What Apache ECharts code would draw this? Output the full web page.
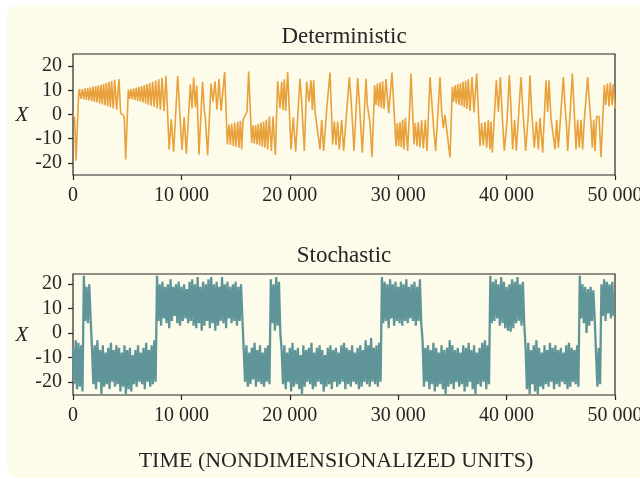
<!DOCTYPE html>
<html>
<head>
<meta charset="utf-8">
<title>Deterministic vs stochastic</title>
<script src="https://cdn.jsdelivr.net/npm/echarts@6/dist/echarts.min.js"></script>
<style>
    html, body {
        margin: 0;
        padding: 0;
        background: #ffffff;
        width: 640px;
        height: 479px;
        overflow: hidden;
    }

    /* cream panel behind the figure */
    #panel {
        position: absolute;
        left: 7px;
        top: 5px;
        width: 650px;
        height: 473px;
        border-radius: 11px;
        background: #fdfbea;
    }

    #chart {
        position: absolute;
        left: 0;
        top: 0;
        width: 640px;
        height: 479px;
    }
</style>
</head>
<body>
<div id="panel"></div>
<div id="chart"></div>
<script>
// ---- data ----
const xTicks = [0, 10000, 20000, 30000, 40000, 50000];
const xTickLabels = ['0', '10 000', '20 000', '30 000', '40 000', '50 000'];
const yTicks = [-20, -10, 0, 10, 20];
const yTickLabels = ['-20', '-10', '0', '10', '20'];

// deterministic run: turning points of the trace (time, X)
const detTime = [
    0, 150, 280, 520, 584, 722, 861, 984, 1107, 1230, 1353, 1476, 1599, 1722, 1845, 1968,
    2091, 2214, 2337, 2460, 2583, 2706, 2829, 2952, 3075, 3198, 3321, 3444, 3567, 3705, 3844, 4028,
    4243, 4397, 4643, 4735, 4858, 5104, 5227, 5350, 5473, 5596, 5719, 5842, 5965, 6088, 6211, 6334,
    6457, 6580, 6703, 6826, 6949, 7072, 7210, 7349, 7488, 7626, 7765, 7903, 8056, 8210, 8395, 8579,
    8870, 9060, 9287, 9655, 10055, 10255, 10455, 10824, 10978, 11131, 11290, 11420, 11623, 11950, 12100, 12200,
    12420, 12730, 12915, 13100, 13284, 13469, 13660, 13760, 13991, 14237, 14391, 14514, 14637, 14791, 14914, 15037,
    15191, 15313, 15437, 15560, 15683, 15806, 15929, 16051, 16205, 16482, 16605, 16728, 16851, 16974, 17097, 17220,
    17343, 17466, 17589, 17712, 17835, 17958, 18112, 18296, 18450, 18665, 18881, 19096, 19250, 19373, 19496, 19619,
    19803, 20110, 20326, 20541, 20941, 21095, 21341, 21556, 21771, 21956, 22079, 22200, 22325, 22786, 22940, 23124,
    23400, 23709, 23954, 24108, 24262, 24415, 24569, 24785, 24969, 25246, 25492, 25646, 25800, 25923, 26261, 26415,
    26538, 26691, 27030, 27153, 27399, 27583, 27829, 27952, 28075, 28198, 28321, 28444, 28567, 28690, 28875, 29120,
    29428, 29797, 29920, 30043, 30166, 30289, 30412, 30535, 30658, 30873, 31027, 31181, 31457, 31580, 31734, 31857,
    32011, 32165, 32319, 32503, 32657, 32934, 33272, 33456, 33856, 34010, 34164, 34318, 34472, 34778, 34994, 35117,
    35240, 35363, 35486, 35609, 35732, 35855, 35978, 36101, 36224, 36347, 36470, 36624, 36808, 36993, 37239, 37546,
    37700, 37854, 38008, 38161, 38315, 38469, 38561, 38684, 39053, 39238, 39422, 39607, 39791, 40037, 40252, 40406,
    40560, 40744, 40898, 41329, 41513, 41759, 42005, 42159, 42313, 42559, 42743, 42928, 43081, 43327, 43635, 43789,
    43912, 44096, 44465, 44619, 44773, 44980, 45234, 45388, 45541, 45634, 45849, 46064, 46249, 46402, 46556, 46710,
    46864, 47017, 47171, 47479, 47633, 47787, 47909, 48032, 48155, 48309, 48524, 48709, 49016, 49139, 49293, 49447,
    49570, 49724, 49830, 50000
];
const detX = [
    0, -1.5, -19, 8.5, 10.5, 6.5, 10.5, 6.2, 10.8, 6, 11, 5.8, 11.2, 5.5, 11.5, 5.2,
    11.8, 5, 12, 4.6, 12.3, 4.2, 12.7, 3.8, 13, 3.4, 13.4, 3, 13.8, 2.5, 14.3, 2,
    14.6, 0.5, -0.3, -1.5, -18.6, 10.3, 6.5, 10.5, 6.2, 10.8, 6, 11.1, 5.6, 11.4, 5.3, 11.8,
    5, 12.2, 4.6, 12.6, 4.1, 13, 3.6, 13.5, 3.1, 14, 2.5, 14.6, 2, 15.2, 1.5, 16,
    -14.4, -2, -15.4, 15.9, -14.6, -1.1, -16.2, 12.5, 2.5, 15.3, 3, 12, -16.5, 13.5, 2, -1,
    -16.8, 12.8, 5.3, 13.7, 2, 14.6, 1.5, 1, 17.6, -12.4, -4.2, -12.6, -3.8, -13, -3.4, -13.4,
    -3, -13.8, -2.6, -14.4, -2.2, -1.5, 0, 1.2, 17.8, -11.7, -4.5, -12.1, -4.5, -12.4, -3.9, -12.8,
    -3.3, -13.2, -2.9, -13.7, -2.2, -14.4, -0.8, -15.1, -0.8, -16.7, 13.7, 2.6, 13.5, 1.9, 14.6, 1.5,
    17.6, -14.4, -1.2, -15.4, 14.8, 5.3, -15.1, 13.5, 5.3, 14.1, 1.9, 14.1, 1.2, -14.4, -2.2, -15.1,
    2, 17.3, -12.4, -2.9, -12.7, -2.9, -14.4, -2.2, -15.1, 1.2, 15.5, 6.7, -4.9, -15.1, 15.1, 5.3,
    -4.2, -15.8, 14.8, 3.9, -3.5, -17.6, 12.1, 3.9, 12.8, 3.3, 13.2, 2.6, 13.7, 2.3, 14.6, 0.5,
    17.3, -13.1, -3.5, -13.1, -3.1, -13.5, -2.2, -14.4, -1.5, -15.1, -0.8, 16.9, -12.4, -3.5, -13.1, -3.1,
    -13.5, -2.2, -14, -2.2, -15.1, 15.5, -5.6, -15.1, 15.5, 1.2, -5.6, -0.1, -0.8, -17.8, 11.4, 5.3,
    12.1, 4.6, 12.5, 3.9, 12.9, 3.5, 13.5, 2.9, 14, 2.3, 14.6, 1.5, 15.5, 0.8, 16.9, -13.1,
    -3.5, -12.8, -3.1, -13.7, -2.2, -14.4, -2.9, -15.8, 14.1, 1.2, 15.5, -1.5, -15.1, -2.9, 16.2, 2.6,
    -14.4, -2.2, -15.1, 15.5, 1.2, -15.1, -0.1, 16.2, 1.2, -13.7, -2.9, -14.4, -1.5, -15.8, 14.1, 1.2,
    14.1, -1.5, -14.4, -2.2, -13.7, -1, 15.5, 3.9, -5.6, -15.1, -0.1, 16.9, 0.5, -14.4, -2.2, -13.7,
    -2.2, -14.4, -2.2, 15.5, 5.3, -3.5, -13.7, -2.2, -15.1, -0.8, -0.8, -17.6, 12.1, 3.9, 12.8, 3.3,
    13.2, 3.9, 12.5, 2.5
];

// stochastic run: upper and lower edge of the noisy band, one pair per 250 time units
const STOCH_STEP = 250;
const stochHigh = [
    -6, -3, -4, -5,
    23.5, 19, 20,
    -6, -5, -3, -7, -5, -8, -6, -4, -7, -5, -6, -8, -5, -7, -6, -9, -7, -5, -8, -6, -4, -7, -5, -3,
    23.5, 20, 21, 19, 20, 22, 19, 20, 21, 19, 20, 18, 21, 22, 20, 23, 19, 21, 20, 22, 23, 20, 21, 19, 23, 20, 21, 19, 20, 21, 19, 20,
    -7, -5, -8, -6, -4, -7, -5, -8, -6, -5,
    22, 20, 23, 21,
    -7, -5, -8, -6, -4, -7, -6, -9, -5, -7, -6, -4, -8, -6, -5, -7, -9, -6, -5, -7, -6, -8, -5, -4, -6, -7, -5, -8, -6, -5, -7, -3, -5, -2, -6, -5, -4,
    23, 21, 20, 22, 20, 21, 19, 21, 20, 22, 19, 20, 21, 19, 22,
    -3, -6, -5, -7, -4, -6, -8, -5, -7, -6, -3, -5, -7, -6, -8, -5, -6, -4, -7, -5, -8, -6, -4, -3, -5,
    23.5, 21, 22, 20, 23, 21, 19, 20, 22, 21, 23, 20, 21,
    -6, -4, -7, -5, -3, -6, -8, -5, -7, -4, -6, -5, -7, -6, -8, -5, -4, -6, -7, -5,
    23.5, 20, 19, 18, 19, 17.5,
    -8, -6,
    20, 22, 21, 20, 21
];
const stochLow = [
    -21, -23, -22, -24,
    5, 4, 6,
    -21, -23, -20, -25, -22, -21, -23, -20, -22, -21, -24, -22, -25, -23, -24, -21, -22, -20, -21, -23, -20, -22, -21, -20,
    5, 3, 6, 4, 2, 5, 7, 4, 3, 5, 6, 4, 5, 3, 2, 4, 1, 3, 5, 2, 4, 1, 3, 5, 4, 2, 6, 4, 5, 3, 5, 6,
    -20, -22, -21, -19, -22, -20, -21, -22, -20, -21,
    4, 1, 3, 0,
    -21, -23, -20, -24, -22, -21, -23, -25, -22, -20, -21, -23, -22, -20, -21, -24, -22, -21, -23, -20, -22, -21, -20, -23, -21, -22, -20, -21, -23, -22, -20, -21, -22, -20, -21, -22, -20,
    4, 5, 2, 6, 3, 5, 4, 3, 5, 4, 6, 5, 3, 5, 4,
    -22, -20, -23, -21, -24, -22, -21, -23, -25, -22, -21, -23, -20, -22, -21, -24, -22, -20, -23, -25, -21, -22, -20, -23, -21,
    4, 5, 6, 3, 4, 2, 1, 0.5, 2, 4, 5, 3, 4,
    -23, -25, -21, -24, -25, -22, -23, -21, -22, -20, -23, -21, -22, -20, -21, -23, -22, -20, -21, -22,
    6, 4, 0, 3, 5, 6,
    -22, -21,
    7, 5, 8, 6, 7
];

// ---- chart ----
const FONT = '"Liberation Serif", "DejaVu Serif", serif';
const INK = '#262626';

const detData = detTime.map((t, i) => [t, detX[i]]);
const stochData = [];
stochHigh.forEach((hi, i) => {
    stochData.push([i * STOCH_STEP, hi]);
    stochData.push([i * STOCH_STEP + STOCH_STEP / 2, stochLow[i]]);
});

function xAxisFor(gridIndex) {
    return {
        type: 'value',
        gridIndex: gridIndex,
        min: 0,
        max: 50000,
        interval: 10000,
        axisLine: { show: false, onZero: false },
        axisTick: { show: true, length: 5, lineStyle: { color: INK, width: 1.2 } },
        axisLabel: {
            color: INK,
            fontFamily: FONT,
            fontSize: 20,
            margin: 11,
            showMinLabel: true,
            showMaxLabel: true,
            formatter: v => xTickLabels[xTicks.indexOf(v)]
        },
        splitLine: { show: false }
    };
}

function yAxisFor(gridIndex, lo, hi) {
    return {
        type: 'value',
        gridIndex: gridIndex,
        min: lo,
        max: hi,
        axisLine: { show: false, onZero: false },
        axisTick: { show: true, length: 5, customValues: yTicks, lineStyle: { color: INK, width: 1.2 } },
        axisLabel: {
            color: INK,
            fontFamily: FONT,
            fontSize: 20,
            margin: 11,
            customValues: yTicks,
            formatter: v => yTickLabels[yTicks.indexOf(v)]
        },
        splitLine: { show: false }
    };
}

function label(text, x, y, size, italic) {
    return {
        type: 'text',
        x: x,
        y: y,
        style: {
            text: text,
            fill: INK,
            font: (italic ? 'italic ' : '') + size + 'px ' + FONT,
            align: 'center',
            verticalAlign: 'middle'
        }
    };
}

const chart = echarts.init(document.getElementById('chart'));

const option = {
    backgroundColor: 'transparent',
    animation: false,
    grid: [
        {
            left: 73, top: 54, width: 542, height: 121,
            outerBoundsMode: 'none', containLabel: false,
            show: true, borderColor: INK, borderWidth: 1.2
        },
        {
            left: 73, top: 274, width: 542, height: 121,
            outerBoundsMode: 'none', containLabel: false,
            show: true, borderColor: INK, borderWidth: 1.2
        }
    ],
    xAxis: [xAxisFor(0), xAxisFor(1)],
    yAxis: [yAxisFor(0, -25, 25), yAxisFor(1, -25.4, 24.2)],
    series: [
        {
            name: 'Deterministic',
            type: 'line',
            xAxisIndex: 0,
            yAxisIndex: 0,
            data: detData,
            showSymbol: false,
            lineStyle: { color: '#e9a13c', width: 1.6 }
        },
        {
            name: 'Stochastic',
            type: 'line',
            xAxisIndex: 1,
            yAxisIndex: 1,
            data: stochData,
            showSymbol: false,
            sampling: null,
            lineStyle: { color: '#5f9599', width: 2.3, join: 'bevel' }
        }
    ],
    graphic: [
        label('Deterministic', 344, 37, 23, false),
        label('Stochastic', 344, 256, 23, false),
        label('X', 22, 115, 21, true),
        label('X', 22, 335, 21, true),
        label('TIME (NONDIMENSIONALIZED UNITS)', 336, 461, 22, false)
    ]
};

chart.setOption(option);
</script>
</body>
</html>
